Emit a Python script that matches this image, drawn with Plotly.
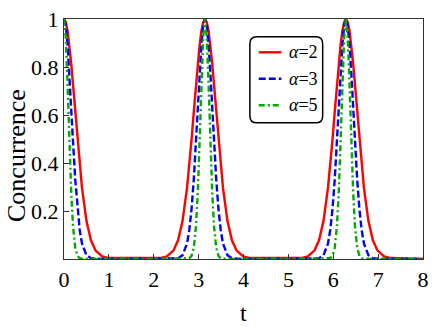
import plotly.graph_objects as go

# time samples (three peaks: t = 0, pi, 2 pi)
t = [0, 0.04, 0.08, 0.12, 0.16, 0.2, 0.25, 0.3, 0.35, 0.4, 0.5, 0.6, 0.7, 0.85, 1.0,
     2.142, 2.292, 2.442, 2.542, 2.642, 2.742, 2.792, 2.842, 2.892, 2.942, 2.982, 3.022, 3.062, 3.102,
     3.142,
     3.182, 3.222, 3.262, 3.302, 3.342, 3.392, 3.442, 3.492, 3.542, 3.642, 3.742, 3.842, 3.992, 4.142,
     5.283, 5.433, 5.583, 5.683, 5.783, 5.883, 5.933, 5.983, 6.033, 6.083, 6.123, 6.163, 6.203, 6.243,
     6.283,
     6.323, 6.363, 6.403, 6.443, 6.483, 6.533, 6.583, 6.633, 6.683, 6.783, 6.883, 6.983, 7.133, 7.283,
     8.0]

conc_a2 = [1, 0.987, 0.950, 0.892, 0.816, 0.729, 0.613, 0.497, 0.390, 0.297, 0.159, 0.078, 0.036, 0.011, 0.004,
           0.004, 0.011, 0.036, 0.078, 0.159, 0.297, 0.390, 0.497, 0.613, 0.729, 0.816, 0.892, 0.950, 0.987,
           1,
           0.987, 0.950, 0.892, 0.816, 0.729, 0.613, 0.497, 0.390, 0.297, 0.159, 0.078, 0.036, 0.011, 0.004,
           0.004, 0.011, 0.036, 0.078, 0.159, 0.297, 0.390, 0.497, 0.613, 0.729, 0.816, 0.892, 0.950, 0.987,
           1,
           0.987, 0.950, 0.892, 0.816, 0.729, 0.613, 0.497, 0.390, 0.297, 0.159, 0.078, 0.036, 0.011, 0.004,
           0]

conc_a3 = [1, 0.972, 0.891, 0.773, 0.633, 0.491, 0.332, 0.208, 0.121, 0.065, 0.016, 0.003, 0.001, 0, 0,
           0, 0, 0.001, 0.003, 0.016, 0.065, 0.121, 0.208, 0.332, 0.491, 0.633, 0.773, 0.891, 0.972,
           1,
           0.972, 0.891, 0.773, 0.633, 0.491, 0.332, 0.208, 0.121, 0.065, 0.016, 0.003, 0.001, 0, 0,
           0, 0, 0.001, 0.003, 0.016, 0.065, 0.121, 0.208, 0.332, 0.491, 0.633, 0.773, 0.891, 0.972,
           1,
           0.972, 0.891, 0.773, 0.633, 0.491, 0.332, 0.208, 0.121, 0.065, 0.016, 0.003, 0.001, 0, 0,
           0]

conc_a5 = [1, 0.923, 0.727, 0.488, 0.281, 0.139, 0.047, 0.013, 0.003, 0.001, 0, 0, 0, 0, 0,
           0, 0, 0, 0, 0, 0.001, 0.003, 0.013, 0.047, 0.139, 0.281, 0.488, 0.727, 0.923,
           1,
           0.923, 0.727, 0.488, 0.281, 0.139, 0.047, 0.013, 0.003, 0.001, 0, 0, 0, 0, 0,
           0, 0, 0, 0, 0, 0.001, 0.003, 0.013, 0.047, 0.139, 0.281, 0.488, 0.727, 0.923,
           1,
           0.923, 0.727, 0.488, 0.281, 0.139, 0.047, 0.013, 0.003, 0.001, 0, 0, 0, 0, 0,
           0]

labels = ['<i>α</i>=2', '<i>α</i>=3', '<i>α</i>=5']
colors = ['#FF0000', '#0000FF', '#00AA00']
dashes = ['solid', '7px,3px', '6px,3px,2px,3px']

x_ticks = [0, 1, 2, 3, 4, 5, 6, 7, 8]
y_ticks = [0.2, 0.4, 0.6, 0.8, 1]
y_ticktext = ['0.2', '0.4', '0.6', '0.8', '1']

FONT = 'Liberation Serif, Times New Roman, serif'

fig = go.Figure()
for ys, name, c, d in zip([conc_a2, conc_a3, conc_a5], labels, colors, dashes):
    fig.add_trace(go.Scatter(x=t, y=ys, mode='lines', name=name,
                             line=dict(color=c, width=2.4, dash=d)))

# pixel -> paper helpers for the hand-made legend (plot area 64..429 x 14..259)
def px(x):
    return (x - 64) / 365

def py(y):
    return (259 - y) / 245

shapes = []
x0, x1, y0, y1 = px(253), px(327), py(120), py(32)
rx, ry = 7 / 365, 7 / 245
path = (f'M {x0+rx},{y1} L {x1-rx},{y1} Q {x1},{y1} {x1},{y1-ry} '
        f'L {x1},{y0+ry} Q {x1},{y0} {x1-rx},{y0} L {x0+rx},{y0} '
        f'Q {x0},{y0} {x0},{y0+ry} L {x0},{y1-ry} Q {x0},{y1} {x0+rx},{y1} Z')
shapes.append(dict(type='path', path=path, xref='paper', yref='paper',
                   line=dict(color='black', width=1.5), fillcolor='white'))

annotations = []
for i, (name, c, d) in enumerate(zip(labels, colors, dashes)):
    yy = py(48 + 27 * i)
    shapes.append(dict(type='line', xref='paper', yref='paper',
                       x0=px(262), x1=px(285), y0=yy, y1=yy,
                       line=dict(color=c, width=2.4, dash=d)))
    annotations.append(dict(text=name, xref='paper', yref='paper', x=px(291), y=yy,
                            xanchor='left', yanchor='middle', showarrow=False,
                            font=dict(family=FONT, size=18, color='black')))

annotations.append(dict(text='Concurrence', xref='paper', yref='paper', x=px(15), y=py(153),
                        textangle=-90, showarrow=False, xanchor='center', yanchor='middle',
                        font=dict(family=FONT, size=26, color='black')))
annotations.append(dict(text='t', xref='paper', yref='paper', x=px(246), y=py(314),
                        showarrow=False, xanchor='center', yanchor='middle',
                        font=dict(family=FONT, size=24, color='black')))

fig.update_layout(
    width=436, height=327,
    margin=dict(l=64, r=7, t=14, b=68),
    plot_bgcolor='white', paper_bgcolor='white',
    showlegend=False,
    shapes=shapes,
    annotations=annotations,
    font=dict(family=FONT, size=22, color='black'),
)
fig.update_xaxes(range=[0, 8], tickvals=x_ticks, ticks='inside', ticklen=5, tickcolor='#333',
                 tickfont=dict(family=FONT, size=22, color='black'),
                 showline=True, linecolor='#333', linewidth=1.3, mirror=True,
                 showgrid=False, zeroline=False)
fig.update_yaxes(range=[0, 1], tickvals=y_ticks, ticktext=y_ticktext, ticks='inside', ticklen=5,
                 tickfont=dict(family=FONT, size=22, color='black'),
                 tickcolor='#333', showline=True, linecolor='#333', linewidth=1.3, mirror=True,
                 showgrid=False, zeroline=False)

# drop the default page margin so the figure sits at the window's corner
fig.write_html("out.html", config={'displayModeBar': False},
               post_script="document.body.style.margin='0';")
